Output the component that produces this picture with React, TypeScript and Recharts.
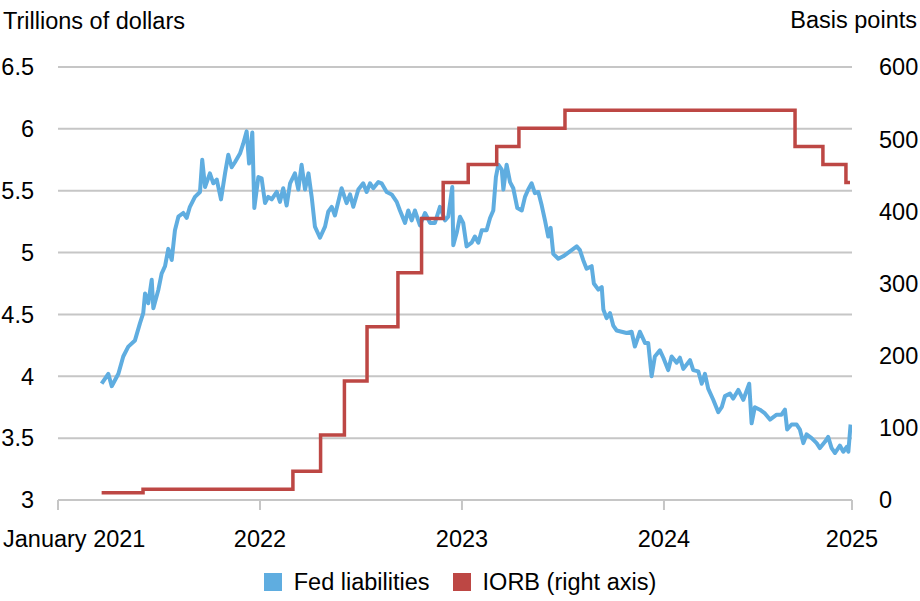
import React from "react";
import { LineChart, Line, XAxis, YAxis, CartesianGrid, Legend } from "recharts";

// decimal-year positions (as drawn on the chart's time axis) and values
const fedYears = [
  2021.216, 2021.249, 2021.266, 2021.299, 2021.323, 2021.348, 2021.381, 2021.406, 2021.422, 2021.431,
  2021.447, 2021.464, 2021.472, 2021.497, 2021.513, 2021.53, 2021.546, 2021.563, 2021.579, 2021.596,
  2021.62, 2021.637, 2021.653, 2021.678, 2021.703, 2021.714, 2021.728, 2021.752, 2021.769, 2021.786,
  2021.807, 2021.827, 2021.843, 2021.86, 2021.876, 2021.901, 2021.917, 2021.934, 2021.946, 2021.962,
  2021.972, 2021.992, 2022.008, 2022.025, 2022.041, 2022.058, 2022.083, 2022.099, 2022.115, 2022.132,
  2022.149, 2022.173, 2022.19, 2022.206, 2022.223, 2022.24, 2022.256, 2022.272, 2022.297, 2022.322,
  2022.338, 2022.355, 2022.371, 2022.404, 2022.429, 2022.446, 2022.462, 2022.487, 2022.511, 2022.528,
  2022.545, 2022.561, 2022.586, 2022.602, 2022.627, 2022.652, 2022.677, 2022.693, 2022.718, 2022.734,
  2022.751, 2022.767, 2022.792, 2022.817, 2022.842, 2022.866, 2022.891, 2022.916, 2022.932, 2022.952,
  2022.957, 2022.974, 2022.99, 2023.006, 2023.023, 2023.048, 2023.064, 2023.081, 2023.098,
  2023.122, 2023.139, 2023.155, 2023.168, 2023.18, 2023.197, 2023.205, 2023.221, 2023.238, 2023.254,
  2023.274, 2023.296, 2023.312, 2023.328, 2023.345, 2023.361, 2023.378, 2023.395, 2023.411, 2023.427,
  2023.439, 2023.452, 2023.477, 2023.501, 2023.518, 2023.543, 2023.568, 2023.584, 2023.6, 2023.617,
  2023.642, 2023.653, 2023.675, 2023.692, 2023.7, 2023.716, 2023.733, 2023.749, 2023.766, 2023.79,
  2023.815, 2023.84, 2023.856, 2023.881, 2023.906, 2023.922, 2023.939, 2023.955, 2023.98, 2023.997,
  2024.021, 2024.038, 2024.063, 2024.079, 2024.096, 2024.129, 2024.145, 2024.17, 2024.187, 2024.203,
  2024.219, 2024.244, 2024.269, 2024.286, 2024.302, 2024.327, 2024.343, 2024.368, 2024.393, 2024.422,
  2024.434, 2024.45, 2024.475, 2024.5, 2024.525, 2024.558, 2024.582, 2024.599, 2024.61, 2024.632,
  2024.657, 2024.673, 2024.69, 2024.706, 2024.731, 2024.756, 2024.772, 2024.797, 2024.813, 2024.83,
  2024.847, 2024.871, 2024.888, 2024.905, 2024.913, 2024.924,
];
const fedLiabilities = [
  3.94, 4.02, 3.92, 4.02, 4.16, 4.24, 4.29, 4.43, 4.51, 4.67,
  4.59, 4.78, 4.55, 4.7, 4.83, 4.89, 5.03, 4.94, 5.18, 5.29,
  5.32, 5.28, 5.37, 5.45, 5.49, 5.75, 5.53, 5.64, 5.56, 5.59,
  5.43, 5.64, 5.79, 5.69, 5.73, 5.8, 5.88, 5.98, 5.72, 5.97,
  5.36, 5.61, 5.6, 5.4, 5.45, 5.43, 5.49, 5.41, 5.52, 5.38,
  5.56, 5.64, 5.51, 5.71, 5.51, 5.64, 5.45, 5.21, 5.12, 5.21,
  5.33, 5.37, 5.3, 5.52, 5.4, 5.47, 5.37, 5.51, 5.56, 5.49,
  5.56, 5.52, 5.57, 5.56, 5.49, 5.47, 5.41, 5.34, 5.24, 5.34,
  5.26, 5.34, 5.22, 5.32, 5.24, 5.24, 5.37, 5.26, 5.29, 5.53,
  5.06, 5.16, 5.29, 5.24, 5.05, 5.08, 5.13, 5.08, 5.18,
  5.18, 5.28, 5.34, 5.61, 5.71, 5.67, 5.51, 5.71, 5.57, 5.52,
  5.36, 5.34, 5.45, 5.51, 5.56, 5.48, 5.49, 5.38, 5.26, 5.13,
  5.2, 4.99, 4.95, 4.97, 4.99, 5.02, 5.05, 5.02, 4.94, 4.87,
  4.89, 4.75, 4.7, 4.72, 4.54, 4.47, 4.51, 4.41, 4.37, 4.36,
  4.35, 4.36, 4.24, 4.36, 4.27, 4.27, 4.0, 4.16, 4.21, 4.15,
  4.05, 4.16, 4.11, 4.15, 4.06, 4.13, 4.05, 4.04, 3.94, 4.02,
  3.9, 3.81, 3.71, 3.75, 3.84, 3.86, 3.82, 3.89, 3.81, 3.94,
  3.62, 3.75, 3.73, 3.7, 3.65, 3.69, 3.69, 3.73, 3.57, 3.61,
  3.61, 3.57, 3.46, 3.53, 3.5, 3.46, 3.42, 3.47, 3.51, 3.42,
  3.38, 3.44, 3.39, 3.43, 3.39, 3.61,
];

const iorbYears = [
  2021.216, 2021.421, 2022.163, 2022.3, 2022.418, 2022.53, 2022.683, 2022.8, 2022.907,
  2023.031, 2023.172, 2023.282, 2023.51, 2024.649, 2024.787, 2024.901, 2024.921,
];
const iorbBps = [10, 15, 40, 90, 165, 240, 315, 390, 440, 465, 490, 515, 540, 490, 465, 440, 440];

const xTicks = [2021, 2022, 2023, 2024, 2024.931];
const xTickLabels = ["January 2021", "2022", "2023", "2024", "2025"];
const leftTicks = [3, 3.5, 4, 4.5, 5, 5.5, 6, 6.5];
const rightTicks = [0, 100, 200, 300, 400, 500, 600];

const fedData = fedYears.map((t, i) => ({ t, fed: fedLiabilities[i] }));
const iorbData = iorbYears.map((t, i) => ({ t, iorb: iorbBps[i] }));

const FONT = "'Liberation Sans', Arial, sans-serif";
const FS = 23.5;
const BLUE = "#5fade0";
const RED = "#bd4744";
const GRID = "#c6c6c6";

const XTick = (props: any) => {
  const { x, y, payload, index } = props;
  const first = index === 0;
  return (
    <text
      x={first ? x - 55 : x}
      y={y}
      dy="0.71em"
      textAnchor={first ? "start" : "middle"}
      fontFamily={FONT}
      fontSize={FS}
      fill="#000"
    >
      {xTickLabels[xTicks.indexOf(payload.value)]}
    </text>
  );
};

const legendItems = [
  { label: "Fed liabilities", color: BLUE },
  { label: "IORB (right axis)", color: RED },
];

const LegendContent = () => (
  <div
    style={{
      display: "flex",
      justifyContent: "center",
      alignItems: "center",
      height: 24,
      fontFamily: FONT,
      fontSize: FS,
      color: "#000",
    }}
  >
    {legendItems.map((it, i) => (
      <div key={it.label} style={{ display: "flex", alignItems: "center", marginLeft: i ? 23 : 0 }}>
        <span style={{ width: 18, height: 18, background: it.color, marginRight: 12, display: "inline-block" }} />
        <span>{it.label}</span>
      </div>
    ))}
  </div>
);

export default function App() {
  return (
    <div style={{ position: "absolute", left: 0, top: 0, width: 920, height: 601, background: "#fff" }}>
      <LineChart
        width={920}
        height={601}
        margin={{ top: 67, right: 0, left: 0, bottom: 7 }}
      >
        <CartesianGrid yAxisId="left" vertical={false} stroke={GRID} strokeWidth={2} />
        <XAxis
          type="number"
          dataKey="t"
          domain={[2021, 2024.931]}
          ticks={xTicks}
          allowDataOverflow
          height={70}
          stroke={GRID}
          strokeWidth={2}
          tickSize={10}
          tickMargin={20}
          tick={<XTick />}
        />
        <YAxis
          yAxisId="left"
          width={58}
          domain={[3, 6.5]}
          ticks={leftTicks}
          axisLine={false}
          tickLine={false}
          tickSize={0}
          tickMargin={24}
          tick={{ fill: "#000", fontSize: FS, fontFamily: FONT }}
        />
        <YAxis
          yAxisId="right"
          orientation="right"
          width={68}
          domain={[0, 600]}
          ticks={rightTicks}
          axisLine={false}
          tickLine={false}
          tickSize={0}
          tickMargin={27}
          tick={{ fill: "#000", fontSize: FS, fontFamily: FONT, textAnchor: "start" }}
        />
        <Legend verticalAlign="bottom" content={<LegendContent />} />
        <Line
          yAxisId="left"
          data={fedData}
          dataKey="fed"
          name="Fed liabilities"
          type="linear"
          stroke={BLUE}
          strokeWidth={4}
          strokeLinejoin="round"
          dot={false}
          isAnimationActive={false}
        />
        <Line
          yAxisId="right"
          data={iorbData}
          dataKey="iorb"
          name="IORB (right axis)"
          type="stepAfter"
          stroke={RED}
          strokeWidth={3.5}
          dot={false}
          isAnimationActive={false}
        />
      </LineChart>
      <svg
        width={920}
        height={601}
        style={{ position: "absolute", left: 0, top: 0, pointerEvents: "none" }}
      >
        <text x={3} y={29} fontFamily={FONT} fontSize={FS} fill="#000">
          Trillions of dollars
        </text>
        <text x={917} y={28} fontFamily={FONT} fontSize={FS} fill="#000" textAnchor="end">
          Basis points
        </text>
      </svg>
    </div>
  );
}
